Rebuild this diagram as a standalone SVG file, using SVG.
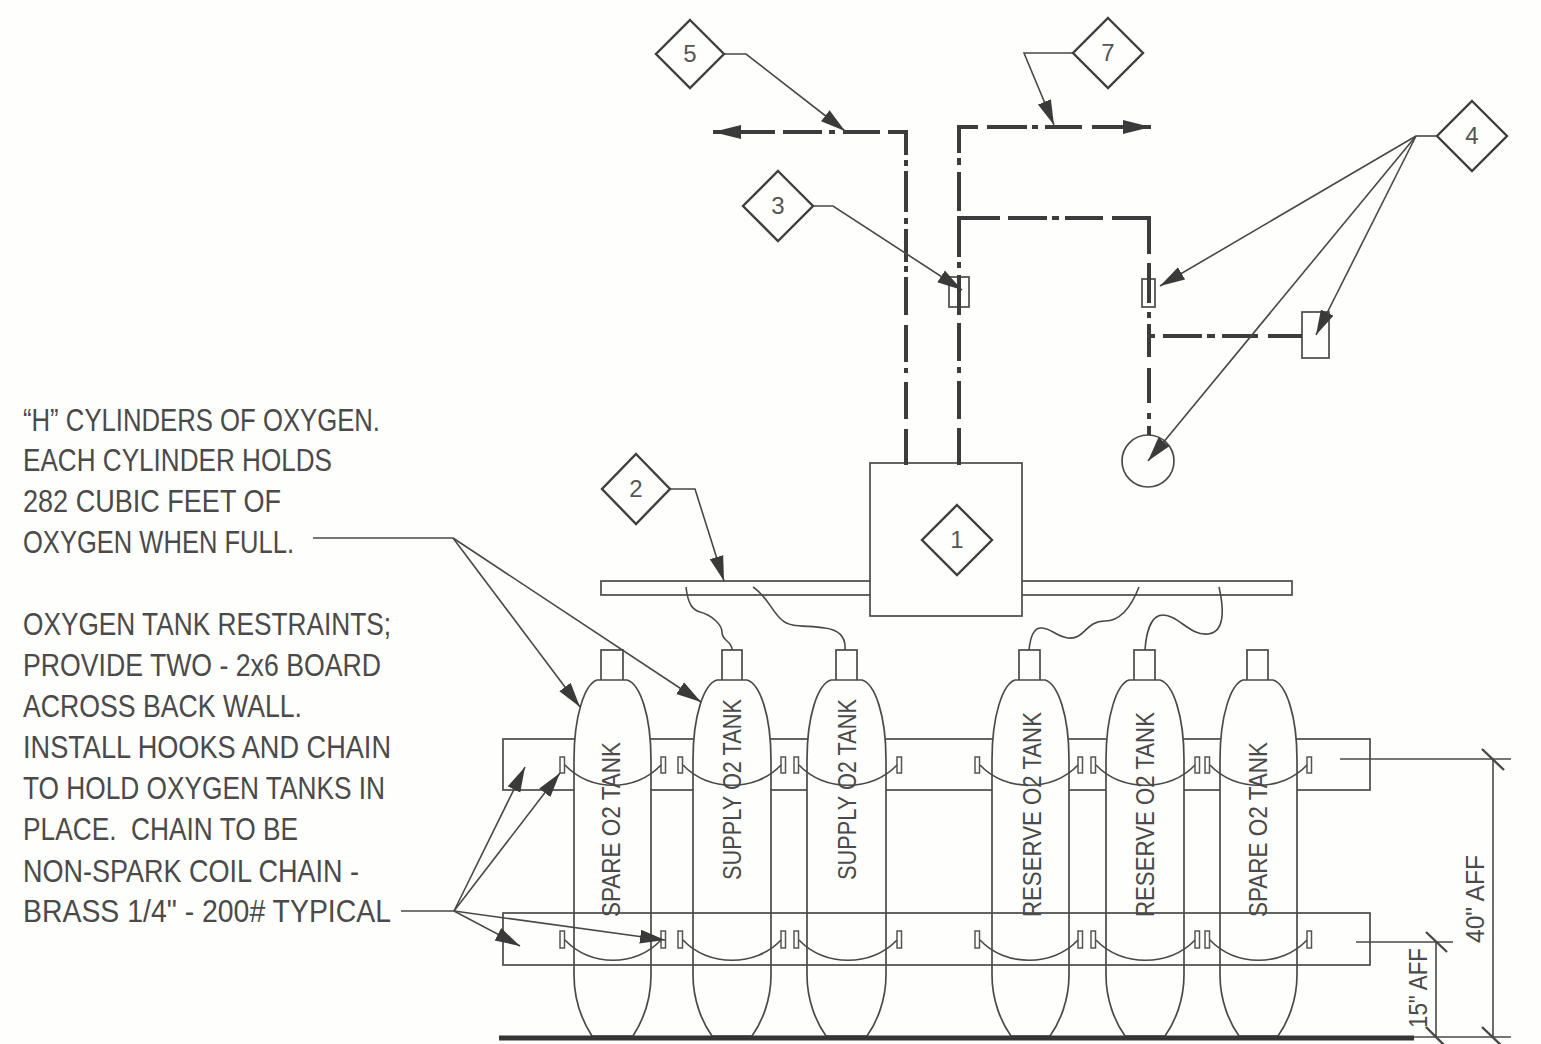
<svg xmlns="http://www.w3.org/2000/svg" width="1541" height="1044" viewBox="0 0 1541 1044">
<defs>
<style>
.ln{fill:none;stroke:#4a4a4a;stroke-width:1.7}
.tk{fill:#fefefd;stroke:#4a4a4a;stroke-width:1.7}
.dm{fill:#fefefd;stroke:#404040;stroke-width:2.4}
.hk{fill:#fefefd;stroke:#555;stroke-width:1.5}
.pp{fill:none;stroke:#3c3c3c;stroke-width:4}
.ld{fill:none;stroke:#484848;stroke-width:1.6}
.arr{marker-end:url(#ah)}
text{font-family:"Liberation Sans",Arial,sans-serif;fill:#4a4a4a}
.nt{font-size:31px;fill:#4a4a4a}
.tl{font-size:26px}
.dn{font-size:24px;text-anchor:middle;fill:#555}
</style>
<marker id="ah" markerUnits="userSpaceOnUse" markerWidth="26" markerHeight="16" refX="25" refY="8" orient="auto"><path d="M0,1 L25,8 L0,15 Z" fill="#3a3a3a"/></marker>
<marker id="ap" markerUnits="userSpaceOnUse" markerWidth="30" markerHeight="16" refX="28" refY="8" orient="auto"><path d="M0,1 L28,8 L0,15 Z" fill="#3a3a3a"/></marker>
</defs>
<rect width="1541" height="1044" fill="#fefefd"/>

<g id="rail"><rect class="tk" x="601" y="581" width="691" height="14"/></g>
<g id="panel"><rect class="tk" x="870" y="463" width="152" height="153"/></g>

<g id="board-upper"><rect class="ln" x="503" y="739" width="867" height="51"/></g>

<g id="tank-1">
<rect class="tk" x="601" y="650" width="22" height="32"/>
<path class="tk" d="M597,680 L627,680 C640,684 651,715 651,760 L651,975 C651,1000 642,1022 633,1036 L592,1036 C583,1022 574,1000 574,975 L574,760 C574,715 585,684 597,680 Z"/>
<text class="tl" transform="translate(620,917) rotate(-90)" textLength="175" lengthAdjust="spacingAndGlyphs">SPARE O2 TANK</text>
</g>
<g id="tank-2">
<rect class="tk" x="722" y="650" width="20" height="32"/>
<path class="tk" d="M717,680 L747,680 C760,684 771,715 771,760 L771,975 C771,1000 762,1022 752,1036 L712,1036 C702,1022 693,1000 693,975 L693,760 C693,715 704,684 717,680 Z"/>
<text class="tl" transform="translate(741,880) rotate(-90)" textLength="181" lengthAdjust="spacingAndGlyphs">SUPPLY O2 TANK</text>
</g>
<g id="tank-3">
<rect class="tk" x="836" y="650" width="21" height="32"/>
<path class="tk" d="M831,680 L862,680 C875,684 886,715 886,760 L886,975 C886,1000 877,1022 867,1036 L826,1036 C816,1022 807,1000 807,975 L807,760 C807,715 818,684 831,680 Z"/>
<text class="tl" transform="translate(856,880) rotate(-90)" textLength="181" lengthAdjust="spacingAndGlyphs">SUPPLY O2 TANK</text>
</g>
<g id="tank-4">
<rect class="tk" x="1019" y="650" width="21" height="32"/>
<path class="tk" d="M1015,680 L1045,680 C1058,684 1069,715 1069,760 L1069,975 C1069,1000 1060,1022 1050,1036 L1011,1036 C1001,1022 992,1000 992,975 L992,760 C992,715 1003,684 1015,680 Z"/>
<text class="tl" transform="translate(1041,917) rotate(-90)" textLength="205" lengthAdjust="spacingAndGlyphs">RESERVE O2 TANK</text>
</g>
<g id="tank-5">
<rect class="tk" x="1134" y="650" width="21" height="32"/>
<path class="tk" d="M1129,680 L1160,680 C1173,684 1184,715 1184,760 L1184,975 C1184,1000 1175,1022 1165,1036 L1125,1036 C1115,1022 1106,1000 1106,975 L1106,760 C1106,715 1117,684 1129,680 Z"/>
<text class="tl" transform="translate(1154,917) rotate(-90)" textLength="205" lengthAdjust="spacingAndGlyphs">RESERVE O2 TANK</text>
</g>
<g id="tank-6">
<rect class="tk" x="1247" y="650" width="21" height="32"/>
<path class="tk" d="M1243,680 L1273,680 C1286,684 1297,715 1297,760 L1297,975 C1297,1000 1288,1022 1278,1036 L1239,1036 C1229,1022 1220,1000 1220,975 L1220,760 C1220,715 1231,684 1243,680 Z"/>
<text class="tl" transform="translate(1267,917) rotate(-90)" textLength="175" lengthAdjust="spacingAndGlyphs">SPARE O2 TANK</text>
</g>

<g id="board-lower"><rect class="ln" x="503" y="913" width="867" height="52"/></g>

<g id="hooks">
<g class="hk">
<rect x="560" y="757" width="4.5" height="16"/><rect x="661" y="757" width="4.5" height="16"/><rect x="678" y="757" width="4.5" height="16"/><rect x="781" y="757" width="4.5" height="16"/><rect x="794" y="757" width="4.5" height="16"/><rect x="897" y="757" width="4.5" height="16"/><rect x="975" y="757" width="4.5" height="16"/><rect x="1078" y="757" width="4.5" height="16"/><rect x="1091" y="757" width="4.5" height="16"/><rect x="1195" y="757" width="4.5" height="16"/><rect x="1205" y="757" width="4.5" height="16"/><rect x="1307" y="757" width="4.5" height="16"/>
<rect x="560" y="931" width="4.5" height="17"/><rect x="661" y="931" width="4.5" height="17"/><rect x="678" y="931" width="4.5" height="17"/><rect x="781" y="931" width="4.5" height="17"/><rect x="794" y="931" width="4.5" height="17"/><rect x="897" y="931" width="4.5" height="17"/><rect x="975" y="931" width="4.5" height="17"/><rect x="1078" y="931" width="4.5" height="17"/><rect x="1091" y="931" width="4.5" height="17"/><rect x="1195" y="931" width="4.5" height="17"/><rect x="1205" y="931" width="4.5" height="17"/><rect x="1307" y="931" width="4.5" height="17"/>
</g>
</g>

<g id="valve-3"><rect class="ln" x="949" y="277" width="20" height="30"/></g>
<g id="valve-4"><rect class="ln" x="1142" y="279" width="13" height="28"/></g>
<g id="device-rect"><rect class="ln" x="1302" y="312" width="27" height="46"/></g>
<g id="device-circle"><circle class="ln" cx="1148" cy="461" r="26"/></g>

<g id="floor"><path d="M499,1038 H1414" stroke="#353535" stroke-width="5" fill="none"/></g>

<g id="connectors">
<g id="chains" class="ld">
<path d="M565,765 C590,792 636,792 661,765"/><path d="M683,765 C708,792 756,792 781,765"/><path d="M799,765 C824,792 872,792 897,765"/><path d="M980,765 C1005,792 1053,792 1078,765"/><path d="M1096,765 C1121,792 1170,792 1195,765"/><path d="M1210,765 C1235,792 1282,792 1307,765"/>
<path d="M565,940 C590,967 636,967 661,940"/><path d="M683,940 C708,967 756,967 781,940"/><path d="M799,940 C824,967 872,967 897,940"/><path d="M980,940 C1005,967 1053,967 1078,940"/><path d="M1096,940 C1121,967 1170,967 1195,940"/><path d="M1210,940 C1235,967 1282,967 1307,940"/>
</g>
<g id="wires" class="ld">
<path d="M686,587 C688,605 693,610 700,612 C712,615 722,625 722,632 C722,642 732,640 732,650"/>
<path d="M753,587 C768,597 772,612 782,620 C790,628 808,625 825,628 C840,630 846,638 845,650"/>
<path d="M1139,587 C1130,610 1118,621 1105,621 C1085,621 1085,640 1068,638 C1055,636 1050,627 1040,628 C1032,629 1030,640 1029,650"/>
<path d="M1219,587 C1222,600 1228,632 1208,634 C1190,636 1178,615 1163,615 C1150,615 1146,635 1145,650"/>
</g>
<g id="pipes" class="pp">
<path d="M906,155 V132 H888"/><path d="M880,132 H843"/><path d="M835,132 H829"/><path d="M822,132 H783"/>
<path d="M775,132 H713" marker-end="url(#ap)"/>
<path d="M906,160 V166"/><path d="M906,171 V212"/><path d="M906,218 V224"/><path d="M906,229 V262"/><path d="M906,266 V272"/><path d="M906,277 V315"/><path d="M906,325 V362"/><path d="M906,368 V373"/><path d="M906,382 V419"/><path d="M906,429 V465"/>
<path d="M959,153 V127 H978"/><path d="M987,127 H1027"/><path d="M1032,127 H1038"/><path d="M1045,127 H1082"/>
<path d="M1092,127 H1151" marker-end="url(#ap)"/>
<path d="M959,158 V165"/><path d="M959,172 V211"/>
<path d="M959,257 V218 H1000"/><path d="M1008,218 H1047"/><path d="M1052,218 H1059"/><path d="M1065,218 H1103"/>
<path d="M1112,218 H1149 V254"/>
<path d="M959,262 V268"/><path d="M959,275 V315"/><path d="M959,323 V361"/><path d="M959,367 V373"/><path d="M959,381 V419"/><path d="M959,428 V465"/>
<path d="M1149,263 V303"/><path d="M1149,312 V318"/><path d="M1149,324 V357"/><path d="M1149,368 V403"/><path d="M1149,413 V419"/><path d="M1149,426 V435"/>
<path d="M1149,336 H1155"/><path d="M1163,336 H1202"/><path d="M1207,336 H1215"/><path d="M1222,336 H1258"/><path d="M1268,336 H1302"/>
</g>
<g id="leaders" class="ld">
<path class="arr" d="M724,54 H746 L845,131"/>
<path class="arr" d="M1073,53 H1024 L1054,125"/>
<path class="arr" d="M813,206 H833 L962,290"/>
<path class="arr" d="M670,489 H695 L724,581"/>
<path d="M1438,136 H1416"/>
<path class="arr" d="M1416,136 L1160,286"/>
<path class="arr" d="M1416,136 L1316,335"/>
<path class="arr" d="M1416,136 L1148,461"/>
<path d="M313,538 H453"/>
<path class="arr" d="M453,538 L580,707"/>
<path class="arr" d="M453,538 L701,702"/>
<path d="M401,911 H454"/>
<path class="arr" d="M454,911 L525,767"/>
<path class="arr" d="M454,911 L560,773"/>
<path class="arr" d="M454,911 L520,946"/>
<path class="arr" d="M454,911 L665,940"/>
</g>
<g id="dimensions" class="ld">
<path d="M1340,759 H1511"/><path d="M1493,759 V1037"/><path d="M1482,749 L1504,770" stroke-width="2.4"/><path d="M1414,1037 H1511"/><path d="M1482,1027 L1504,1048" stroke-width="2.4"/>
<path d="M1356,942 H1453"/><path d="M1436,942 V1037"/><path d="M1426,932 L1447,952" stroke-width="2.4"/><path d="M1426,1027 L1447,1048" stroke-width="2.4"/>
</g>
</g>

<g id="dim-labels">
<text class="tl" transform="translate(1484,943) rotate(-90)" textLength="88" lengthAdjust="spacingAndGlyphs">40" AFF</text>
<text class="tl" transform="translate(1427,1028) rotate(-90)" textLength="80" lengthAdjust="spacingAndGlyphs">15" AFF</text>
</g>

<g id="tag-1"><path class="dm" d="M957,505 L992,540 L957,575 L922,540 Z"/><text class="dn" x="957" y="548">1</text></g>
<g id="tag-2"><path class="dm" d="M636,454 L670,489 L636,524 L602,489 Z"/><text class="dn" x="636" y="497">2</text></g>
<g id="tag-3"><path class="dm" d="M778,171 L813,206 L778,241 L743,206 Z"/><text class="dn" x="778" y="214">3</text></g>
<g id="tag-4"><path class="dm" d="M1472,101 L1507,136 L1472,171 L1437,136 Z"/><text class="dn" x="1472" y="144">4</text></g>
<g id="tag-5"><path class="dm" d="M690,20 L724,54 L690,88 L656,54 Z"/><text class="dn" x="690" y="62">5</text></g>
<g id="tag-7"><path class="dm" d="M1108,18 L1143,53 L1108,88 L1073,53 Z"/><text class="dn" x="1108" y="61">7</text></g>

<g id="note-cylinders" class="nt">
<text class="nt" x="23" y="431" textLength="357" lengthAdjust="spacingAndGlyphs">“H” CYLINDERS OF OXYGEN.</text>
<text class="nt" x="23" y="471" textLength="309" lengthAdjust="spacingAndGlyphs">EACH CYLINDER HOLDS</text>
<text class="nt" x="23" y="512" textLength="258" lengthAdjust="spacingAndGlyphs">282 CUBIC FEET OF</text>
<text class="nt" x="23" y="553" textLength="271" lengthAdjust="spacingAndGlyphs">OXYGEN WHEN FULL.</text>
</g>
<g id="note-restraints" class="nt">
<text class="nt" x="23" y="635" textLength="368" lengthAdjust="spacingAndGlyphs">OXYGEN TANK RESTRAINTS;</text>
<text class="nt" x="23" y="676" textLength="358" lengthAdjust="spacingAndGlyphs">PROVIDE TWO - 2x6 BOARD</text>
<text class="nt" x="23" y="717" textLength="279" lengthAdjust="spacingAndGlyphs">ACROSS BACK WALL.</text>
<text class="nt" x="23" y="758" textLength="368" lengthAdjust="spacingAndGlyphs">INSTALL HOOKS AND CHAIN</text>
<text class="nt" x="23" y="799" textLength="362" lengthAdjust="spacingAndGlyphs">TO HOLD OXYGEN TANKS IN</text>
<text class="nt" x="23" y="840" textLength="275" lengthAdjust="spacingAndGlyphs" xml:space="preserve">PLACE.  CHAIN TO BE</text>
<text class="nt" x="23" y="882" textLength="336" lengthAdjust="spacingAndGlyphs">NON-SPARK COIL CHAIN -</text>
<text class="nt" x="23" y="922" textLength="368" lengthAdjust="spacingAndGlyphs">BRASS 1/4" - 200# TYPICAL</text>
</g>
</svg>
